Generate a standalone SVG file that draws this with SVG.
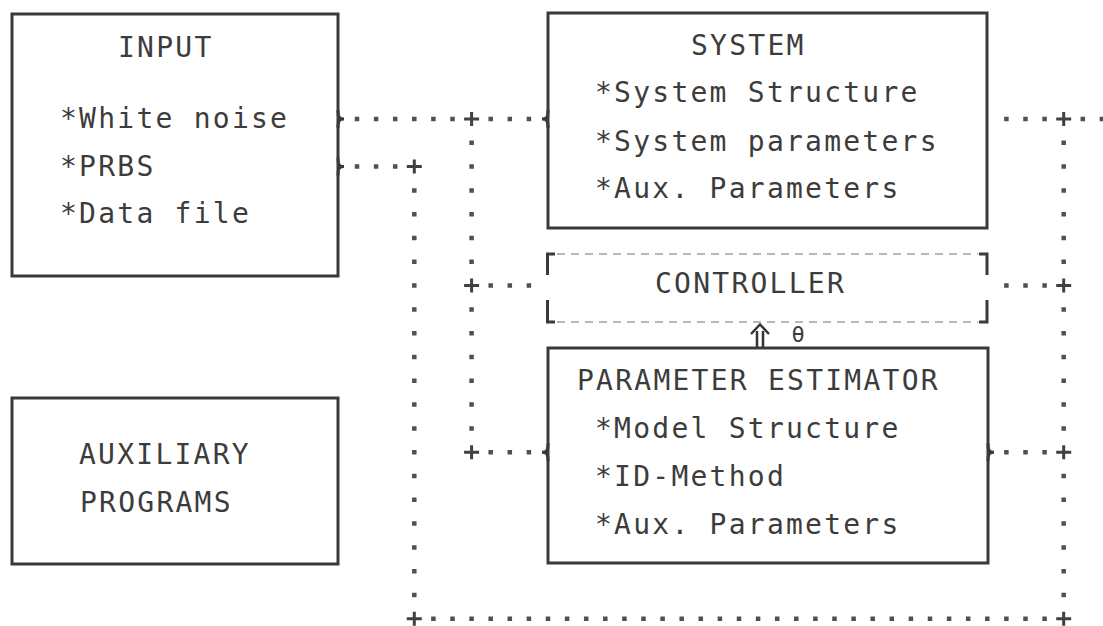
<svg xmlns="http://www.w3.org/2000/svg" width="1103" height="626" viewBox="0 0 1103 626">
<style>
.box{fill:none;stroke:#3a3a3a;stroke-width:3}
.t{font-family:"DejaVu Sans Mono","Liberation Mono",monospace;font-size:28px;letter-spacing:2.24px;fill:#3c3c3c}
.dh{stroke:#505050;stroke-width:4.5;stroke-dasharray:4.5 14.6;fill:none}
.dv{stroke:#505050;stroke-width:4.5;stroke-dasharray:4.5 19.3;fill:none}
.br{fill:none;stroke:#3a3a3a;stroke-width:3}
.dash{stroke:#a0a0a0;stroke-width:1.5;stroke-dasharray:8 6;fill:none}
</style>
<defs>
<path id="plus" d="M-7.5,0H7.5M0,-7V7" stroke="#404040" stroke-width="3" fill="none"/>
</defs>
<rect width="1103" height="626" fill="#fff"/>
<g id="connectors">
<path class="dh" d="M354.75,119H454.75M488.45,119H531.15M1004.15,119H1046.85M1080.55,119H1104M354.75,166.6H397.45M488.45,285.6H531.15M1004.15,285.6H1046.85M488.45,452.2H531.15M1004.15,452.2H1046.85M431.15,618.8H1046.85"/>
<path class="dv" d="M471.6,140.55V264.05M471.6,307.15V430.65M414.3,188.15V597.25M1063.7,140.55V264.05M1063.7,307.15V430.65M1063.7,473.75V597.25"/>
<use href="#plus" x="471.6" y="119"/>
<use href="#plus" x="414.3" y="166.6"/>
<use href="#plus" x="471.6" y="285.6"/>
<use href="#plus" x="471.6" y="452.2"/>
<use href="#plus" x="414.3" y="618.8"/>
<use href="#plus" x="1063.7" y="119"/>
<use href="#plus" x="1063.7" y="285.6"/>
<use href="#plus" x="1063.7" y="452.2"/>
<use href="#plus" x="1063.7" y="618.8"/>
<path class="br" d="M338,110C338,117 339,119 344,119C339,119 338,121 338,128M338,157.6C338,164.6 339,166.6 344,166.6C339,166.6 338,168.6 338,175.6M548,110C548,117 547,119 542,119C547,119 548,121 548,128M548,443.2C548,450.2 547,452.2 542,452.2C547,452.2 548,454.2 548,461.2M988,443.2C988,450.2 989,452.2 994,452.2C989,452.2 988,454.2 988,461.2"/>
<path d="M757,348V331M763,348V331M751,334L760,324.5L769,334" fill="none" stroke="#333" stroke-width="2.5"/>
<text x="798" y="342" text-anchor="middle" style="font-family:'DejaVu Sans Mono',monospace;font-size:22px;fill:#3c3c3c">θ</text>
</g>
<g id="input">
<rect class="box" x="12" y="14" width="326" height="262"/>
<text class="t" x="118" y="57">INPUT</text>
<text class="t" x="60" y="128">*White noise</text>
<text class="t" x="60" y="176">*PRBS</text>
<text class="t" x="60" y="223">*Data file</text>
</g>
<g id="system">
<rect class="box" x="548" y="13" width="439" height="215"/>
<text class="t" x="691" y="55">SYSTEM</text>
<text class="t" x="595" y="102">*System Structure</text>
<text class="t" x="595" y="151">*System parameters</text>
<text class="t" x="595" y="198">*Aux. Parameters</text>
</g>
<g id="controller">
<path class="dash" d="M557,254H978M557,322H978"/>
<path class="br" d="M555,254H547.5V275M547.5,300V322H555M979,254H987V275M987,300V322H979"/>
<text class="t" x="655" y="293">CONTROLLER</text>
</g>
<g id="estimator">
<rect class="box" x="548" y="348" width="440" height="215"/>
<text class="t" x="577" y="390">PARAMETER ESTIMATOR</text>
<text class="t" x="595" y="438">*Model Structure</text>
<text class="t" x="595" y="486">*ID-Method</text>
<text class="t" x="595" y="534">*Aux. Parameters</text>
</g>
<g id="auxiliary">
<rect class="box" x="12" y="398" width="326" height="166"/>
<text class="t" x="79" y="464">AUXILIARY</text>
<text class="t" x="80" y="512">PROGRAMS</text>
</g>
</svg>
